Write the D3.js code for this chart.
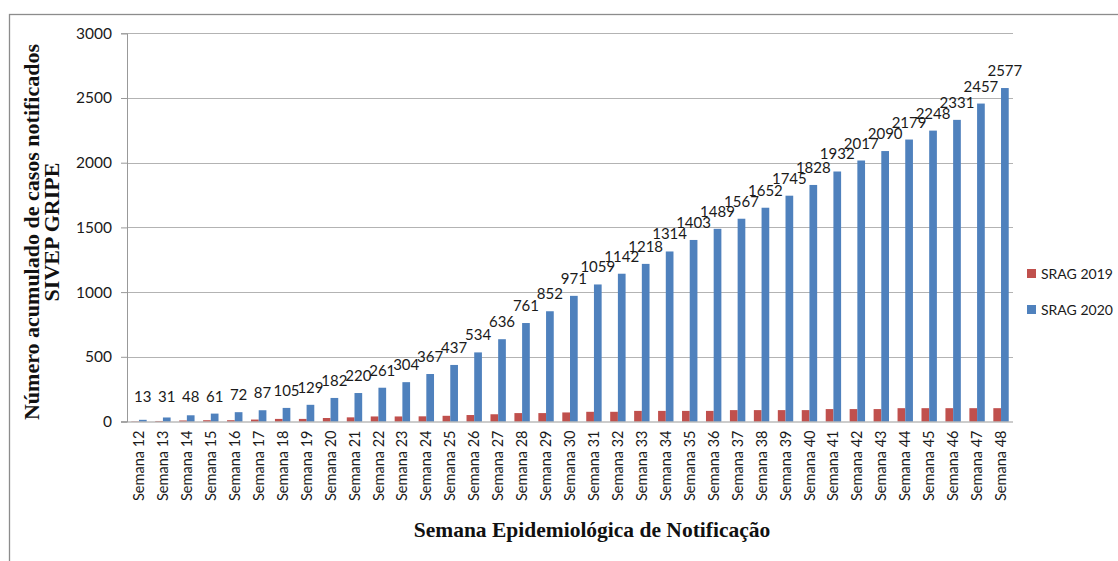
<!DOCTYPE html>
<html>
<head>
<meta charset="utf-8">
<script src="https://d3js.org/d3.v7.min.js"></script>
<style>
    body { margin: 0; background: #fff; }
    svg { display: block; }
    .tick text { font-family: Lato, "Open Sans", sans-serif; }
</style>
</head>
<body>
<div id="chart"></div>
<script>
'use strict';

let weeks = ['Semana 12','Semana 13','Semana 14','Semana 15','Semana 16','Semana 17','Semana 18','Semana 19','Semana 20',
    'Semana 21','Semana 22','Semana 23','Semana 24','Semana 25','Semana 26','Semana 27','Semana 28','Semana 29','Semana 30',
    'Semana 31','Semana 32','Semana 33','Semana 34','Semana 35','Semana 36','Semana 37','Semana 38','Semana 39','Semana 40',
    'Semana 41','Semana 42','Semana 43','Semana 44','Semana 45','Semana 46','Semana 47','Semana 48'];

let srag2019 = [2, 4, 8, 10, 10, 15, 20, 20, 27, 32, 39, 39, 40, 44, 50, 56, 65, 65, 70, 75, 75, 82, 82, 82, 82,
    88, 88, 88, 88, 96, 96, 96, 103, 103, 103, 103, 103];

let srag2020 = [13, 31, 48, 61, 72, 87, 105, 129, 182, 220, 261, 304, 367, 437, 534, 636, 761, 852, 971, 1059, 1142,
    1218, 1314, 1403, 1489, 1567, 1652, 1745, 1828, 1932, 2017, 2090, 2179, 2248, 2331, 2457, 2577];

let seriesNames = ['SRAG 2019', 'SRAG 2020'];
let seriesColours = ['#c0504d', '#4f81bd'];
let yTicks = [0, 500, 1000, 1500, 2000, 2500, 3000];

let config = {
    width: 1118,
    height: 561,
    left: 127,
    right: 1013,
    top: 33.3,
    bottom: 421.5
};

let svg = d3.select('#chart')
    .append('svg')
    .attr('width', config.width)
    .attr('height', config.height);

// outer chart border (runs off the right and bottom of the picture)
svg.append('rect')
    .attr('x', 9.5)
    .attr('y', 14.5)
    .attr('width', 1200)
    .attr('height', 600)
    .attr('fill', 'none')
    .attr('stroke', '#8c8c8c')
    .attr('stroke-width', 1.3);

let xScale = d3.scaleBand()
    .domain(weeks)
    .range([config.left, config.right])
    .paddingInner(0.357)
    .paddingOuter(0.1785);

let xSub = d3.scaleBand()
    .domain(seriesNames)
    .range([0, xScale.bandwidth()]);

let yScale = d3.scaleLinear()
    .domain([0, 3000])
    .range([config.bottom, config.top]);

// gridlines
svg.append('g')
    .attr('class', 'grid')
    .selectAll('line')
    .data(yTicks.filter(d => d > 0))
    .enter()
    .append('line')
    .attr('x1', config.left)
    .attr('x2', config.right)
    .attr('y1', d => Math.round(yScale(d)) + 0.5)
    .attr('y2', d => Math.round(yScale(d)) + 0.5)
    .attr('stroke', '#b3b3b3')
    .attr('stroke-width', 1);

// y axis
let yAxis = d3.axisLeft(yScale)
    .tickValues(yTicks)
    .tickSize(6)
    .tickPadding(9)
    .tickFormat(d3.format('d'));

let yG = svg.append('g')
    .attr('class', 'y-axis')
    .attr('transform', 'translate(' + config.left + ',0)')
    .call(yAxis);

yG.select('.domain').attr('stroke', '#999');
yG.selectAll('.tick line').attr('stroke', '#999');
yG.selectAll('.tick text')
    .attr('font-size', '15.5px')
    .attr('fill', '#1a1a1a');

// bars
let groups = svg.append('g')
    .attr('class', 'bars')
    .selectAll('g')
    .data(weeks)
    .enter()
    .append('g')
    .attr('transform', d => 'translate(' + xScale(d) + ',0)');

let seriesValues = [srag2019, srag2020];

groups.selectAll('rect')
    .data((d, i) => seriesNames.map((s, k) => ({ key: s, k: k, value: seriesValues[k][i] })))
    .enter()
    .append('rect')
    .attr('x', d => xSub(d.key))
    .attr('width', xSub.bandwidth())
    .attr('y', d => yScale(d.value))
    .attr('height', d => config.bottom - yScale(d.value))
    .attr('fill', d => seriesColours[d.k]);

// x axis
let xAxis = d3.axisBottom(xScale)
    .tickSize(0)
    .tickPadding(8);

let xG = svg.append('g')
    .attr('class', 'x-axis')
    .attr('transform', 'translate(0,' + config.bottom + ')')
    .call(xAxis);

xG.select('.domain')
    .attr('stroke', '#999')
    .attr('d', 'M' + (config.left - 6) + ',0.5H' + config.right);

xG.selectAll('.tick text')
    .attr('font-size', '14.5px')
    .attr('fill', '#1a1a1a')
    .attr('text-anchor', 'end')
    .attr('dy', '0.35em')
    .attr('transform', 'rotate(-90)')
    .attr('x', -9)
    .attr('y', 0);

// data labels for 2020
svg.append('g')
    .attr('class', 'labels')
    .selectAll('text')
    .data(weeks)
    .enter()
    .append('text')
    .attr('x', d => xScale(d) + xSub('SRAG 2020') + xSub.bandwidth() / 2)
    .attr('y', (d, i) => Math.min(yScale(srag2020[i]) - 12, 402))
    .attr('text-anchor', 'middle')
    .attr('font-family', 'Lato, "Open Sans", sans-serif')
    .attr('font-size', '15px')
    .attr('fill', '#1a1a1a')
    .text((d, i) => srag2020[i]);

// legend
let legend = svg.append('g')
    .attr('class', 'legend')
    .selectAll('g')
    .data(seriesNames)
    .enter()
    .append('g')
    .attr('transform', (d, i) => 'translate(1027,' + (269 + i * 36) + ')');

legend.append('rect')
    .attr('width', 9)
    .attr('height', 9)
    .attr('fill', (d, i) => seriesColours[i]);

legend.append('text')
    .attr('x', 14)
    .attr('y', 9.5)
    .attr('font-family', 'Lato, "Open Sans", sans-serif')
    .attr('font-size', '14px')
    .attr('fill', '#1a1a1a')
    .text(d => d);

// axis titles
svg.append('text')
    .attr('x', 592)
    .attr('y', 537)
    .attr('text-anchor', 'middle')
    .attr('font-family', '"Liberation Serif", serif')
    .attr('font-weight', 'bold')
    .attr('font-size', '21.5px')
    .attr('fill', '#111')
    .text('Semana Epidemiológica de Notificação');

let yTitle = svg.append('text')
    .attr('transform', 'translate(0,232) rotate(-90)')
    .attr('text-anchor', 'middle')
    .attr('font-family', '"Liberation Serif", serif')
    .attr('font-weight', 'bold')
    .attr('font-size', '22px')
    .attr('fill', '#111');

yTitle.append('tspan')
    .attr('x', 0)
    .attr('y', 39)
    .text('Número acumulado de casos notificados');

yTitle.append('tspan')
    .attr('x', 0)
    .attr('y', 59)
    .text('SIVEP GRIPE');
</script>
</body>
</html>
